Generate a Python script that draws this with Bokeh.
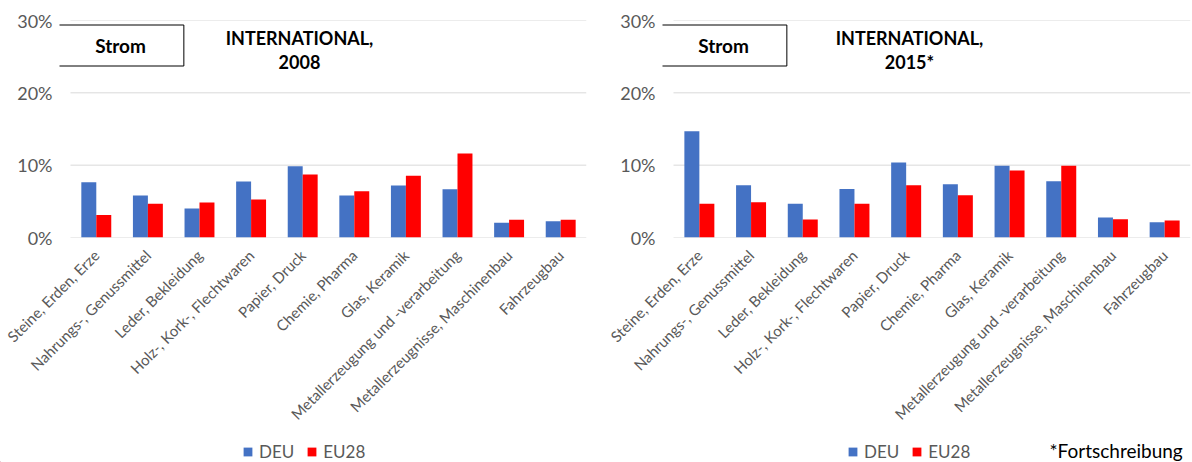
import math
from bokeh.plotting import figure
from bokeh.models import (Range1d, FixedTicker, NumeralTickFormatter,
                          Label, Legend, LegendItem, ColumnDataSource)
from bokeh.transform import dodge
from bokeh.layouts import row, column
from bokeh.embed import file_html
from bokeh.resources import INLINE

categories = ["Steine, Erden, Erze", "Nahrungs-, Genussmittel", "Leder, Bekleidung",
              "Holz-, Kork-, Flechtwaren", "Papier, Druck", "Chemie, Pharma",
              "Glas, Keramik", "Metallerzeugung und -verarbeitung",
              "Metallerzeugnisse, Maschinenbau", "Fahrzeugbau"]

deu_2008 = [0.0765, 0.058, 0.040, 0.0775, 0.0986, 0.058, 0.072, 0.0666, 0.0203, 0.0225]
eu28_2008 = [0.031, 0.0466, 0.0484, 0.0526, 0.0871, 0.064, 0.0853, 0.1163, 0.0244, 0.0244]

deu_2015 = [0.1468, 0.0722, 0.0468, 0.0671, 0.1037, 0.0736, 0.0992, 0.0776, 0.0275, 0.021]
eu28_2015 = [0.0468, 0.0486, 0.025, 0.0468, 0.0722, 0.0583, 0.0927, 0.0992, 0.0252, 0.0234]

y_ticks = [0, 0.10, 0.20, 0.30]
series_names = ["DEU", "EU28"]
box_text = "Strom"
titles_left = ["INTERNATIONAL,", "2008"]
titles_right = ["INTERNATIONAL,", "2015*"]
footnote = "*Fortschreibung"

BLUE = "#4472C4"
RED = "#FF0000"
GRID = "#D9D9D9"
TXT = "#595959"
FONT = "Lato"

N = len(categories)
centers = [i + 0.5 for i in range(N)]
TOP_H = 440
STRIP_H = 22


def make_chart(deu, eu, titles, width, bl, br, title_x):
    p = figure(x_range=Range1d(-0.213, N), y_range=Range1d(0, 0.30),
               width=width, height=TOP_H,
               min_border_left=bl, min_border_right=br, min_border_top=20,
               min_border_bottom=TOP_H - 237, output_backend="svg",
               toolbar_location=None)
    src = ColumnDataSource(dict(xc=centers, cat=categories, deu=deu, eu=eu))

    # horizontal gridlines over the category span
    p.segment(x0=[0] * len(y_ticks), x1=[N] * len(y_ticks), y0=y_ticks, y1=y_ticks,
              line_color=GRID, line_width=1)

    p.vbar(x=dodge("xc", -0.145), top="deu", width=0.29, source=src,
           fill_color=BLUE, line_color=None)
    p.vbar(x=dodge("xc", 0.145), top="eu", width=0.29, source=src,
           fill_color=RED, line_color=None)

    p.outline_line_color = None
    p.xgrid.visible = False
    p.ygrid.visible = False

    p.yaxis.ticker = FixedTicker(ticks=y_ticks)
    p.yaxis.formatter = NumeralTickFormatter(format="0%")
    p.yaxis.axis_line_color = None
    p.yaxis.major_tick_line_color = None
    p.yaxis.minor_tick_line_color = None
    p.yaxis.major_tick_out = 0
    p.yaxis.minor_tick_out = 0
    p.yaxis.major_label_standoff = 7
    p.yaxis.major_label_text_font = FONT
    p.yaxis.major_label_text_font_size = "18px"
    p.yaxis.major_label_text_color = TXT

    p.xaxis.ticker = FixedTicker(ticks=centers)
    p.xaxis.major_label_overrides = {c: name for c, name in zip(centers, categories)}
    p.xaxis.axis_line_color = None
    p.xaxis.major_tick_line_color = None
    p.xaxis.minor_tick_line_color = None
    p.xaxis.major_tick_out = 0
    p.xaxis.minor_tick_out = 0
    p.xaxis.major_label_orientation = math.pi / 4
    p.xaxis.major_label_standoff = 15
    p.xaxis.major_label_text_font = FONT
    p.xaxis.major_label_text_font_size = "15px"
    p.xaxis.major_label_text_color = TXT

    # "Strom" box
    p.add_layout(Label(x=61, y=192, x_units="screen", y_units="screen",
                       text=box_text, text_font=FONT, text_font_style="bold",
                       text_font_size="19px", text_color="black",
                       text_align="center", text_baseline="middle",
                       border_line_color="black", border_line_width=1,
                       background_fill_color="white", padding=(38, 9)))
    # titles
    p.add_layout(Label(x=title_x, y=200, x_units="screen", y_units="screen",
                       text=titles[0], text_font=FONT, text_font_style="bold",
                       text_font_size="18px", text_color="black",
                       text_align="center", text_baseline="middle"))
    p.add_layout(Label(x=title_x, y=176, x_units="screen", y_units="screen",
                       text=titles[1], text_font=FONT, text_font_style="bold",
                       text_font_size="18px", text_color="black",
                       text_align="center", text_baseline="middle"))
    return p


p1 = make_chart(deu_2008, eu28_2008, titles_left, 600, 59, 14, 240)
p2 = make_chart(deu_2015, eu28_2015, titles_right, 592, 62, 2, 247)

# legend strip (swatch renderers sit outside the visible range)
s = figure(width=1192, height=STRIP_H, x_range=Range1d(0, 1192), y_range=Range1d(0, STRIP_H),
           min_border=0, min_border_left=0, min_border_right=0, min_border_top=0,
           min_border_bottom=0, output_backend="svg", toolbar_location=None)
s.axis.visible = False
s.grid.visible = False
s.outline_line_color = None
swatch = ColumnDataSource(dict(x=[-500], top=[1]))
rb = s.vbar(x="x", top="top", width=1, source=swatch, fill_color=BLUE, line_color=None)
rr = s.vbar(x="x", top="top", width=1, source=swatch, fill_color=RED, line_color=None)

for lx in (242, 847):
    s.add_layout(Legend(items=[LegendItem(label=series_names[0], renderers=[rb]),
                               LegendItem(label=series_names[1], renderers=[rr])],
                        orientation="horizontal", location=(lx, 0),
                        glyph_width=11, glyph_height=11, label_standoff=6, spacing=12,
                        padding=0, margin=0, border_line_color=None,
                        background_fill_alpha=0, label_text_font=FONT,
                        label_text_font_size="17px", label_text_color=TXT))

s.add_layout(Label(x=1049, y=12, x_units="screen", y_units="screen",
                   text=footnote, text_font=FONT, text_font_size="19px",
                   text_color="black", text_align="left", text_baseline="middle"))

layout = column(row(p1, p2, spacing=0), s, spacing=0)
open("out.html", "w").write(file_html(layout, INLINE))
